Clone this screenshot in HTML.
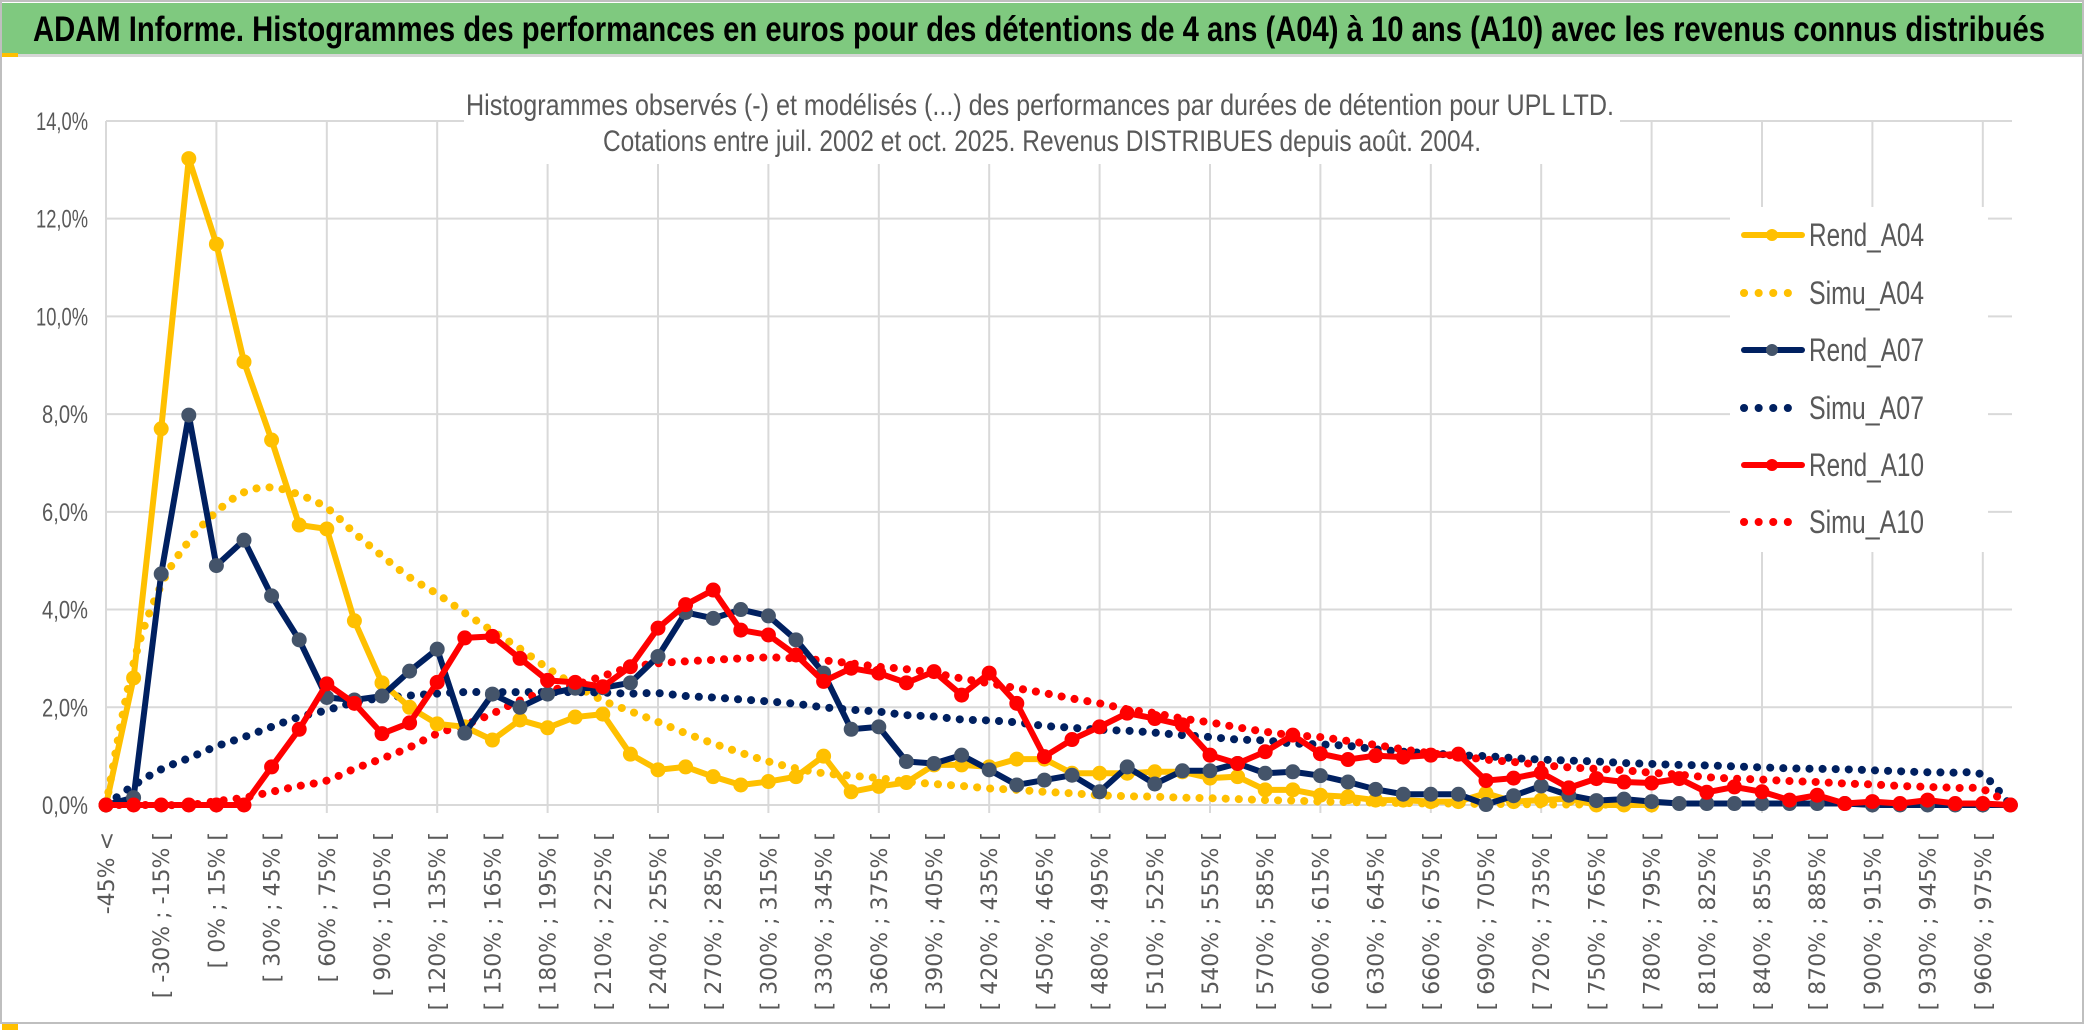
<!DOCTYPE html>
<html><head><meta charset="utf-8"><style>
html,body{margin:0;padding:0;background:#fff;}
svg{display:block;}
text{font-family:"Liberation Sans",sans-serif;}
</style></head><body>
<svg id="chart" width="2086" height="1033" viewBox="0 0 2086 1033" xmlns="http://www.w3.org/2000/svg">
  <rect x="0" y="0" width="2086" height="1033" fill="#fff"/>
  <rect x="1" y="1" width="2082" height="1022" fill="none" stroke="#bfbfbf" stroke-width="2"/>
  <rect x="2" y="3" width="2080" height="51" fill="#7fc97f"/>
  <rect x="2" y="54" width="2080" height="3" fill="#d6d6d6"/>
  <rect x="2" y="53" width="16" height="4" fill="#ffc000"/>
  <rect x="2" y="1024" width="16" height="6" fill="#ffc000"/>
  <text x="33" y="41" font-size="35" font-weight="bold" fill="#000" textLength="2012" lengthAdjust="spacingAndGlyphs">ADAM Informe. Histogrammes des performances en euros pour des détentions de 4 ans (A04) à 10 ans (A10) avec les revenus connus distribués</text>
  <g id="grid"></g>
  <rect x="464" y="60" width="1156" height="104" fill="#fff"/>
  <rect x="1730" y="207" width="258" height="345" fill="#fff"/>
  <text x="1040" y="115" font-size="30" fill="#595959" text-anchor="middle" textLength="1148" lengthAdjust="spacingAndGlyphs">Histogrammes observés (-) et modélisés (...) des performances par durées de détention pour UPL LTD.</text>
  <text x="1042" y="151" font-size="30" fill="#595959" text-anchor="middle" textLength="878" lengthAdjust="spacingAndGlyphs">Cotations entre juil. 2002 et oct. 2025. Revenus DISTRIBUES depuis août. 2004.</text>
  <g id="yaxis"></g>
  <g id="xaxis"></g>
  <g id="series"></g>
  <g id="legend"></g>
</svg>
<script>
const yTicks = [0, 2, 4, 6, 8, 10, 12, 14];
const yTickLabels = ["0,0%", "2,0%", "4,0%", "6,0%", "8,0%", "10,0%", "12,0%", "14,0%"];
const nCategories = 70;
const categoryLabels = [];
categoryLabels.push("-45% <");
for (let k = 1; k < nCategories; k++) { const lo = -45 + 15 * (k - 1); categoryLabels.push("[ " + lo + "% ; " + (lo + 15) + "% ["); }

const rendA04 = [0,2.6,7.7,13.23,11.48,9.07,7.47,5.73,5.65,3.77,2.5,2.0,1.66,1.6,1.33,1.74,1.58,1.8,1.86,1.04,0.72,0.78,0.58,0.41,0.48,0.58,1.0,0.27,0.38,0.46,0.82,0.82,0.78,0.94,0.94,0.65,0.65,0.65,0.68,0.68,0.55,0.58,0.31,0.31,0.2,0.17,0.1,0.1,0.07,0.07,0.24,0.07,0.1,0.13,0,0,0,null,null,null,null,null,null,null,null,null,null,null,null,null];
const simuA04 = [0,2.9,4.5,5.4,6.0,6.4,6.5,6.35,6.08,5.57,5.1,4.66,4.32,3.93,3.56,3.2,2.8,2.45,2.14,1.92,1.7,1.47,1.26,1.07,0.89,0.75,0.65,0.6,0.55,0.48,0.43,0.39,0.34,0.31,0.27,0.24,0.2,0.18,0.17,0.15,0.14,0.12,0.1,0.09,0.07,0.06,0.05,0.04,0.03,0.03,0.02,0.02,0.01,0.01,0.01,0,null,null,null,null,null,null,null,null,null,null,null,null,null,null];
const rendA07 = [0,0.15,4.73,7.98,4.9,5.42,4.28,3.38,2.2,2.15,2.23,2.74,3.19,1.47,2.27,2.0,2.27,2.39,2.4,2.5,3.04,3.94,3.82,4.0,3.87,3.38,2.7,1.55,1.6,0.89,0.85,1.02,0.72,0.41,0.51,0.61,0.27,0.78,0.43,0.7,0.7,0.85,0.65,0.68,0.6,0.47,0.32,0.22,0.22,0.22,0.01,0.19,0.39,0.2,0.09,0.12,0.07,0.03,0.03,0.03,0.03,0.03,0.03,0.03,0,0,0,0,0,0];
const simuA07 = [0,0.4,0.73,0.96,1.2,1.39,1.6,1.8,1.94,2.1,2.19,2.24,2.28,2.31,2.31,2.31,2.31,2.31,2.3,2.28,2.29,2.23,2.2,2.16,2.12,2.07,2.0,1.95,1.91,1.84,1.81,1.75,1.73,1.69,1.62,1.58,1.54,1.52,1.48,1.43,1.39,1.34,1.32,1.26,1.24,1.21,1.14,1.09,1.06,1.02,1.0,0.96,0.93,0.91,0.89,0.86,0.84,0.82,0.81,0.79,0.77,0.75,0.74,0.73,0.71,0.69,0.67,0.66,0.61,0];
const rendA10 = [0,0,0,0,0,0,0.78,1.55,2.48,2.08,1.46,1.68,2.51,3.42,3.45,3.0,2.55,2.51,2.42,2.83,3.62,4.1,4.4,3.58,3.48,3.07,2.53,2.8,2.7,2.5,2.73,2.25,2.7,2.08,0.99,1.34,1.6,1.88,1.77,1.64,1.02,0.85,1.09,1.43,1.05,0.93,1.01,0.98,1.02,1.04,0.5,0.55,0.66,0.35,0.54,0.47,0.45,0.54,0.26,0.37,0.27,0.1,0.2,0.03,0.07,0.03,0.1,0.03,0.03,0];
const simuA10 = [0,0,0,0,0.08,0.15,0.27,0.39,0.5,0.74,0.95,1.18,1.46,1.64,1.87,2.14,2.33,2.46,2.64,2.82,2.9,2.94,2.97,3.0,3.02,3.0,2.96,2.9,2.83,2.78,2.7,2.59,2.49,2.39,2.29,2.18,2.08,1.96,1.88,1.77,1.69,1.59,1.5,1.43,1.39,1.31,1.23,1.14,1.06,1.0,0.93,0.88,0.82,0.77,0.74,0.71,0.66,0.62,0.57,0.54,0.52,0.49,0.47,0.44,0.42,0.39,0.37,0.35,0.32,0];

const NS = "http://www.w3.org/2000/svg";
const X0 = 106, DX = 27.6, Y0 = 805, PY = 48.86, XR = 2012;
function xPos(i) { return X0 + DX * i; }
function yPos(v) { return Y0 - PY * v; }
function el(tag, attrs, parent) {
  const e = document.createElementNS(NS, tag);
  for (const k in attrs) e.setAttribute(k, attrs[k]);
  parent.appendChild(e);
  return e;
}
const grid = document.getElementById("grid");
const yaxis = document.getElementById("yaxis");
const xaxis = document.getElementById("xaxis");
const series = document.getElementById("series");
const legend = document.getElementById("legend");

yTicks.forEach((t, k) => {
  const g = el("line", {x1: X0, x2: XR, y1: yPos(t), y2: yPos(t), stroke: "#d9d9d9", "stroke-width": 2}, grid);
  
  
  const tx = el("text", {x: 88, y: yPos(t) + 9, "font-size": 25, fill: "#595959", "text-anchor": "end", textLength: (yTickLabels[k].length > 4 ? 52 : 46), lengthAdjust: "spacingAndGlyphs"}, yaxis);
  
  
  tx.textContent = yTickLabels[k];
});
for (let i = 0; i < nCategories; i += 4) {
  const g = el("line", {x1: xPos(i), x2: xPos(i), y1: yPos(14), y2: Y0 + 8, stroke: "#d9d9d9", "stroke-width": 2}, grid);
  
  
}
for (let i = 0; i < nCategories; i += 2) {
  const x = xPos(i) + 8, y = 832;
  const tx = el("text", {x: x, y: y, "font-size": 22, fill: "#595959", "text-anchor": "end", transform: "rotate(-90 " + x + " " + y + ")", style: "font-family:'DejaVu Sans',sans-serif"}, xaxis);
  
  
  tx.textContent = categoryLabels[i];
}

function pts(arr) { const p = []; arr.forEach((v, i) => { if (v !== null) p.push([xPos(i), yPos(v)]); }); return p; }
function smoothPath(p) {
  let d = "M" + p[0][0] + "," + p[0][1];
  for (let i = 0; i < p.length - 1; i++) {
    const p0 = p[i - 1] || p[i], p1 = p[i], p2 = p[i + 1], p3 = p[i + 2] || p2;
    const c1x = p1[0] + (p2[0] - p0[0]) / 6, c1y = p1[1] + (p2[1] - p0[1]) / 6;
    const c2x = p2[0] - (p3[0] - p1[0]) / 6, c2y = p2[1] - (p3[1] - p1[1]) / 6;
    d += " C" + c1x + "," + c1y + " " + c2x + "," + c2y + " " + p2[0] + "," + p2[1];
  }
  return d;
}
function drawSim(arr, color, name) {
  const path = el("path", {d: smoothPath(pts(arr)), fill: "none", stroke: color, "stroke-width": 8, "stroke-linecap": "round", "stroke-dasharray": "0.1 13"}, series);
  
  
}
function drawRend(arr, color, marker, name) {
  const p = pts(arr);
  const line = el("polyline", {points: p.map(q => q.join(",")).join(" "), fill: "none", stroke: color, "stroke-width": 6, "stroke-linejoin": "round"}, series);
  
  
  p.forEach(q => {
    const c = el("circle", {cx: q[0], cy: q[1], r: 7, fill: marker, stroke: marker, "stroke-width": 1}, series);
    
    
  });
}
drawSim(simuA04, "#ffc000", "simu-a04-line");
drawSim(simuA07, "#002060", "simu-a07-line");
drawSim(simuA10, "#ff0000", "simu-a10-line");
drawRend(rendA04, "#ffc000", "#ffc000", "rend-a04-line");
drawRend(rendA07, "#002060", "#44546a", "rend-a07-line");
drawRend(rendA10, "#ff0000", "#ff0000", "rend-a10-line");

const legendNames = ["Rend_A04", "Simu_A04", "Rend_A07", "Simu_A07", "Rend_A10", "Simu_A10"];
const legendColors = ["#ffc000", "#ffc000", "#002060", "#002060", "#ff0000", "#ff0000"];
const legendMarkers = ["#ffc000", null, "#44546a", null, "#ff0000", null];
const legendY = [235, 293, 350, 408, 465, 522];
legendNames.forEach((n, k) => {
  const g = el("g", {}, legend);
  
  
  const y = legendY[k];
  if (legendMarkers[k]) {
    el("line", {x1: 1744, x2: 1802, y1: y, y2: y, stroke: legendColors[k], "stroke-width": 6, "stroke-linecap": "round"}, g);
    el("circle", {cx: 1772, cy: y, r: 6, fill: legendMarkers[k]}, g);
  } else {
    el("line", {x1: 1744, x2: 1800, y1: y, y2: y, stroke: legendColors[k], "stroke-width": 8, "stroke-linecap": "round", "stroke-dasharray": "0.1 14.5"}, g);
  }
  const t = el("text", {x: 1809, y: y + 11, "font-size": 32, fill: "#595959", textLength: 115, lengthAdjust: "spacingAndGlyphs"}, g);
  t.textContent = n;
});
</script>
</body></html>
